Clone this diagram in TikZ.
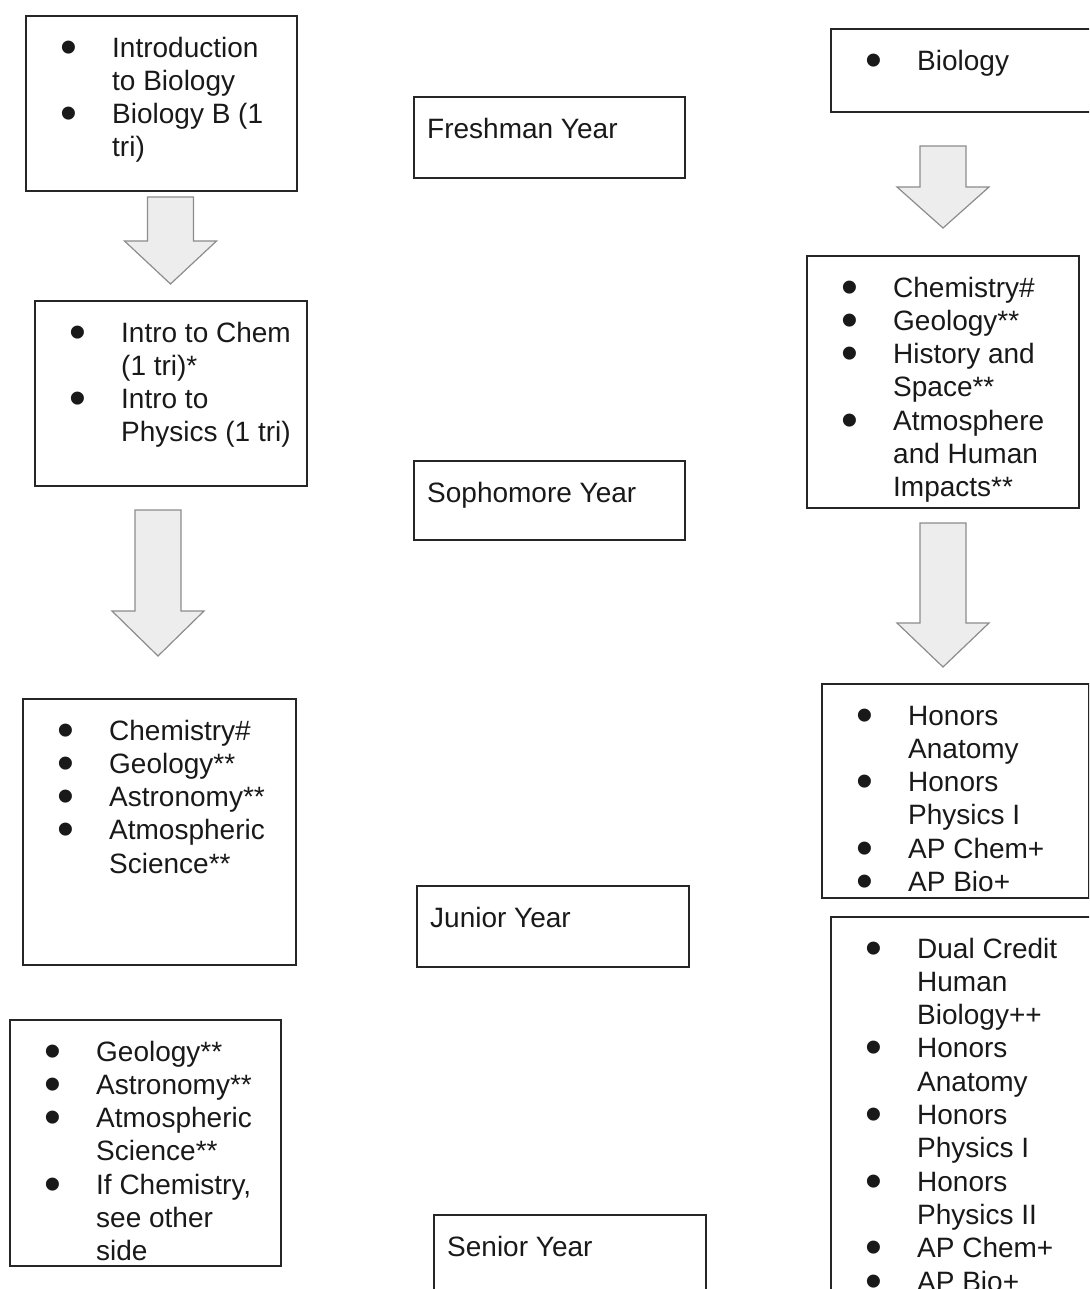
\documentclass[tikz,border=0pt]{standalone}
\usepackage{fontspec}
\setmainfont{Liberation Sans}
\usepackage{tikz}
\usetikzlibrary{positioning}

\newcommand{\crsdot}{\makebox[86pt][l]{\hspace*{34pt}\raisebox{-6pt}{\fontsize{48}{48}\selectfont\textbullet}}}
\newcommand{\crslist}[3]{\parbox[t][#2pt][t]{#1pt}{\vspace*{17.5pt}\begin{tabular}{@{}l@{}l@{}}#3\end{tabular}}}
\newcommand{\yrlabel}[3]{\parbox[t][#2pt][t]{#1pt}{\vspace*{17.5pt}\hspace*{13pt}\strut #3}}
\newcommand{\blockarrow}[4]{\draw[blockarr] (#1-23,#2) -- (#1+23,#2) -- (#1+23,#3) -- (#1+46,#3) -- (#1,#4) -- (#1-46,#3) -- (#1-23,#3) -- cycle;}

\begin{document}
\begin{tikzpicture}[
    x=1pt, y=-1pt,
    box/.style={draw=black!85, line width=2.4pt, anchor=north west, inner sep=0pt, font=\fontsize{28}{33.3}\selectfont, text=black!90},
    blockarr/.style={fill=black!7, draw=black!45, line width=1.2pt}
]
\clip (0,0) rectangle (1089,1289);

\node[box] (introbio) at (25,15) {\crslist{271}{175}{\crsdot & Introduction\\ & to Biology\\ \crsdot & Biology B (1\\ & tri)}};
\node[box] (introchem) at (34,300) {\crslist{272}{185}{\crsdot & Intro to Chem\\ & (1 tri)*\\ \crsdot & Intro to\\ & Physics (1 tri)}};
\node[box] (juniorL) at (22,698) {\crslist{273}{266}{\crsdot & Chemistry\#\\ \crsdot & Geology**\\ \crsdot & Astronomy**\\ \crsdot & Atmospheric\\ & Science**}};
\node[box] (seniorL) at (9,1019) {\crslist{271}{246}{\crsdot & Geology**\\ \crsdot & Astronomy**\\ \crsdot & Atmospheric\\ & Science**\\ \crsdot & If Chemistry,\\ & see other\\ & side}};

\node[box] (freshman) at (413,96) {\yrlabel{271}{81}{Freshman Year}};
\node[box] (sophomore) at (413,460) {\yrlabel{271}{79}{Sophomore Year}};
\node[box] (junior) at (416,885) {\yrlabel{272}{81}{Junior Year}};
\node[box] (senior) at (433,1214) {\yrlabel{272}{150}{Senior Year}};

\node[box] (biology) at (830,28) {\crslist{300}{83}{\crsdot & Biology}};
\node[box] (sophR) at (806,255) {\crslist{272}{252}{\crsdot & Chemistry\#\\ \crsdot & Geology**\\ \crsdot & History and\\ & Space**\\ \crsdot & Atmosphere\\ & and Human\\ & Impacts**}};
\node[box] (juniorR) at (821,683) {\crslist{267}{214}{\crsdot & Honors\\ & Anatomy\\ \crsdot & Honors\\ & Physics I\\ \crsdot & AP Chem+\\ \crsdot & AP Bio+}};
\node[box] (seniorR) at (830,916) {\crslist{300}{450}{\crsdot & Dual Credit\\ & Human\\ & Biology++\\ \crsdot & Honors\\ & Anatomy\\ \crsdot & Honors\\ & Physics I\\ \crsdot & Honors\\ & Physics II\\ \crsdot & AP Chem+\\ \crsdot & AP Bio+}};

\blockarrow{170.5}{197}{241}{284}
\blockarrow{158}{510}{611}{656}
\blockarrow{943}{146}{187}{228}
\blockarrow{943}{523}{623}{667}
\end{tikzpicture}
\end{document}
